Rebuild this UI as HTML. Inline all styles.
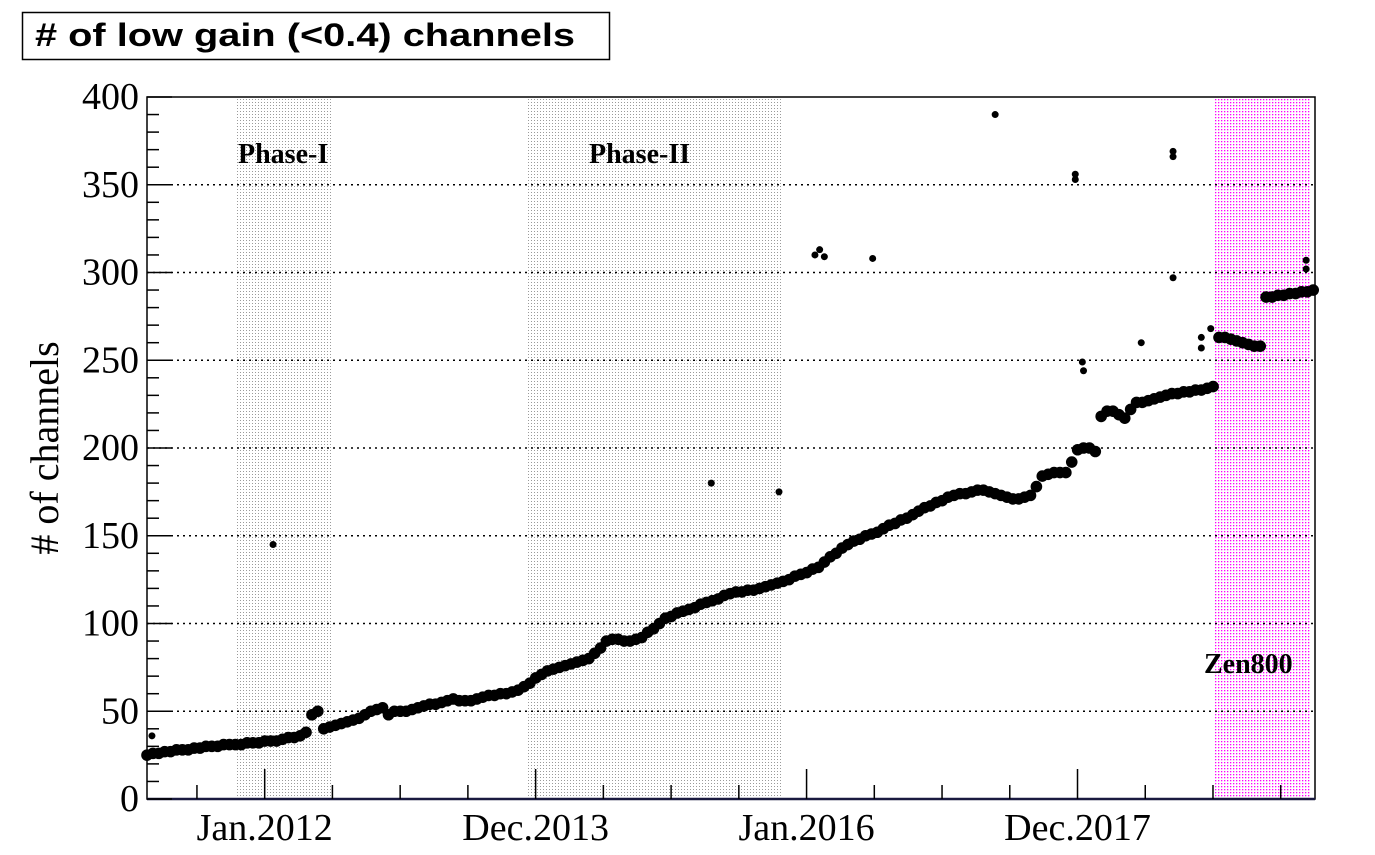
<!DOCTYPE html>
<html><head><meta charset="utf-8"><style>
html,body{margin:0;padding:0;background:#fff;}
svg{display:block;}
</style></head><body>
<svg id="chart" width="1375" height="855" viewBox="0 0 1375 855" xmlns="http://www.w3.org/2000/svg">
<defs>
<pattern id="greyDots" width="3" height="3" patternUnits="userSpaceOnUse"><rect x="0" y="0" width="1" height="1" fill="#9a9a9a"/></pattern>
<pattern id="pinkDots" width="3" height="3" patternUnits="userSpaceOnUse"><rect x="0" y="0" width="1.3" height="1.3" fill="#ff00ff"/></pattern>
</defs>
<g id="bands"></g>
<g id="grid"></g>
<g id="points"></g>
<g id="axes"></g>
<rect x="22.5" y="12.5" width="587" height="47" fill="#fff" stroke="#000" stroke-width="1.5"/>
<text x="35" y="46" textLength="540" lengthAdjust="spacingAndGlyphs" font-family="Liberation Sans, sans-serif" font-weight="bold" font-size="32"># of low gain (&lt;0.4) channels</text>
<text transform="translate(58,448) rotate(-90)" text-anchor="middle" font-family="Liberation Serif, serif" font-size="40"># of channels</text>
</svg>
<script>
const months = [0,0.5,1,1.5,2,2.5,3,3.5,4,4.5,5,5.5,6,6.5,7,7.5,8,8.5,9,9.5,10,10.5,11,11.5,12,12.5,13,13.5,14,14.5,15,15.5,16,16.5,17,17.5,18,18.5,19,19.5,20,20.5,21,21.5,22,22.5,23,23.5,24,24.5,25,25.5,26,26.5,27,27.5,28,28.5,29,29.5,30,30.5,31,31.5,32,32.5,33,33.5,34,34.5,35,35.5,36,36.5,37,37.5,38,38.5,39,39.5,40,40.5,41,41.5,42,42.5,43,43.5,44,44.5,45,45.5,46,46.5,47,47.5,48,48.5,49,49.5,50,50.5,51,51.5,52,52.5,53,53.5,54,54.5,55,55.5,56,56.5,57,57.5,58,58.5,59,59.5,60,60.5,61,61.5,62,62.5,63,63.5,64,64.5,65,65.5,66,66.5,67,67.5,68,68.5,69,69.5,70,70.5,71,71.5,72,72.5,73,73.5,74,74.5,75,75.5,76,76.5,77,77.5,78,78.5,79,79.5,80,80.5,81,81.5,82,82.5,83,83.5,84,84.5,85,85.5,86,86.5,87,87.5,88,88.5,89,89.5,90,90.5,91,91.5,92,92.5,93,93.5,94,94.5,95,95.5,96,96.5,97,97.5,98,98.5,99];
const channels = [25,26,26,27,27,28,28,28,29,29,30,30,30,31,31,31,31,32,32,32,33,33,33,34,35,35,36,38,48,50,40,41,42,43,44,45,46,48,50,51,52,48,50,50,50,51,52,53,54,54,55,56,57,56,56,56,57,58,59,59,60,60,61,62,64,66,69,71,73,74,75,76,77,78,79,80,83,86,90,91,91,90,90,91,92,95,97,100,103,104,106,107,108,109,111,112,113,114,116,117,118,118,119,119,120,121,122,123,124,125,127,128,129,131,132,135,138,140,143,145,147,148,150,151,152,154,156,157,159,160,162,164,166,167,169,170,172,173,174,174,175,176,176,175,174,173,172,171,171,172,173,178,184,185,186,186,186,192,199,200,200,198,218,221,221,219,217,222,226,226,227,228,229,230,231,231,232,232,233,233,234,235,263,263,262,261,260,259,258,258,286,286,287,287,288,288,289,289,290];
const outlierMonths = [0.42,10.7,47.9,53.65,56.7,57.1,57.5,61.6,72,78.8,78.8,79.4,79.5,84.4,87.1,87.1,87.1,89.5,89.5,90.3,98.4,98.4];
const outlierValues = [36,145,180,175,310,313,309,308,390,356,353,249,244,260,369,366,297,263,257,268,307,302];
const yTicks = [0,50,100,150,200,250,300,350,400];
const xTickMonths = [4.24,9.99,15.74,21.49,27.24,32.99,38.74,44.49,50.24,55.99,61.74,67.49,73.24,78.99,84.74,90.49,96.24];
const xTickLabels = ["","Jan.2012","","","","Dec.2013","","","","Jan.2016","","","","Dec.2017","","",""];
const phaseStarts = [7.47,32.26,90.58];
const phaseEnds = [15.62,53.82,98.73];
const phaseNames = ["Phase-I","Phase-II","Zen800"];

const NS="http://www.w3.org/2000/svg";
const X0=147, X1=1315, Y0=799, Y1=97, MMAX=99.15, VMAX=400;
function xs(m){return X0+m*(X1-X0)/MMAX;}
function ys(v){return Y0-v*(Y0-Y1)/VMAX;}
function mk(tag,attrs,parent){const e=document.createElementNS(NS,tag);for(const k in attrs)e.setAttribute(k,attrs[k]);parent.appendChild(e);return e;}

const labelX=[238,589,1204];
const labelY=[163,163,673];
const bands=document.getElementById('bands');
for(let i=0;i<phaseStarts.length;i++){
  const r=mk('rect',{x:xs(phaseStarts[i]),y:Y1,width:xs(phaseEnds[i])-xs(phaseStarts[i]),height:Y0-Y1,fill:i===2?'url(#pinkDots)':'url(#greyDots)'},bands);
  
  
  const t=mk('text',{x:labelX[i],y:labelY[i],'font-family':'Liberation Serif, serif','font-weight':'bold','font-size':'28'},bands);
  t.textContent=phaseNames[i];
  
  
}
const grid=document.getElementById('grid');
for(const v of yTicks){
  if(v===0||v===400)continue;
  const l=mk('line',{x1:X0,x2:X1,y1:ys(v),y2:ys(v),stroke:'#000','stroke-width':1.5,'stroke-dasharray':'2 4'},grid);
  
  
}
const pts=document.getElementById('points');
for(let i=0;i<months.length;i++){
  const c=mk('circle',{cx:xs(months[i]),cy:ys(channels[i]),r:5.8,fill:'#000'},pts);
  
  
}
for(let i=0;i<outlierMonths.length;i++){
  const c=mk('circle',{cx:xs(outlierMonths[i]),cy:ys(outlierValues[i]),r:3.5,fill:'#000'},pts);
  
  
}
const ax=document.getElementById('axes');
const fr=mk('rect',{x:X0,y:Y1,width:X1-X0,height:Y0-Y1,fill:'none',stroke:'#000','stroke-width':1.5},ax);


const xl=mk('line',{x1:X0,x2:X1,y1:Y0,y2:Y0,stroke:'#1a1a40','stroke-width':2.5},ax);


for(let v=0;v<=400;v+=10){
  const major=v%50===0;
  mk('line',{x1:X0,x2:X0+(major?25:12),y1:ys(v),y2:ys(v),stroke:'#000','stroke-width':1.5},ax);
}
for(const v of yTicks){
  const t=mk('text',{x:139,y:ys(v)+12,'text-anchor':'end','font-family':'Liberation Serif, serif','font-size':'38'},ax);
  t.textContent=v;
  
  
}
for(let i=0;i<xTickMonths.length;i++){
  const major=xTickLabels[i]!=="";
  const x=xs(xTickMonths[i]);
  mk('line',{x1:x,x2:x,y1:Y0,y2:Y0-(major?30:14),stroke:'#000','stroke-width':1.5},ax);
  if(major){
    const t=mk('text',{x:x,y:840,'text-anchor':'middle','font-family':'Liberation Serif, serif','font-size':'38'},ax);
    t.textContent=xTickLabels[i];
    
    
  }
}
</script>
</body></html>
